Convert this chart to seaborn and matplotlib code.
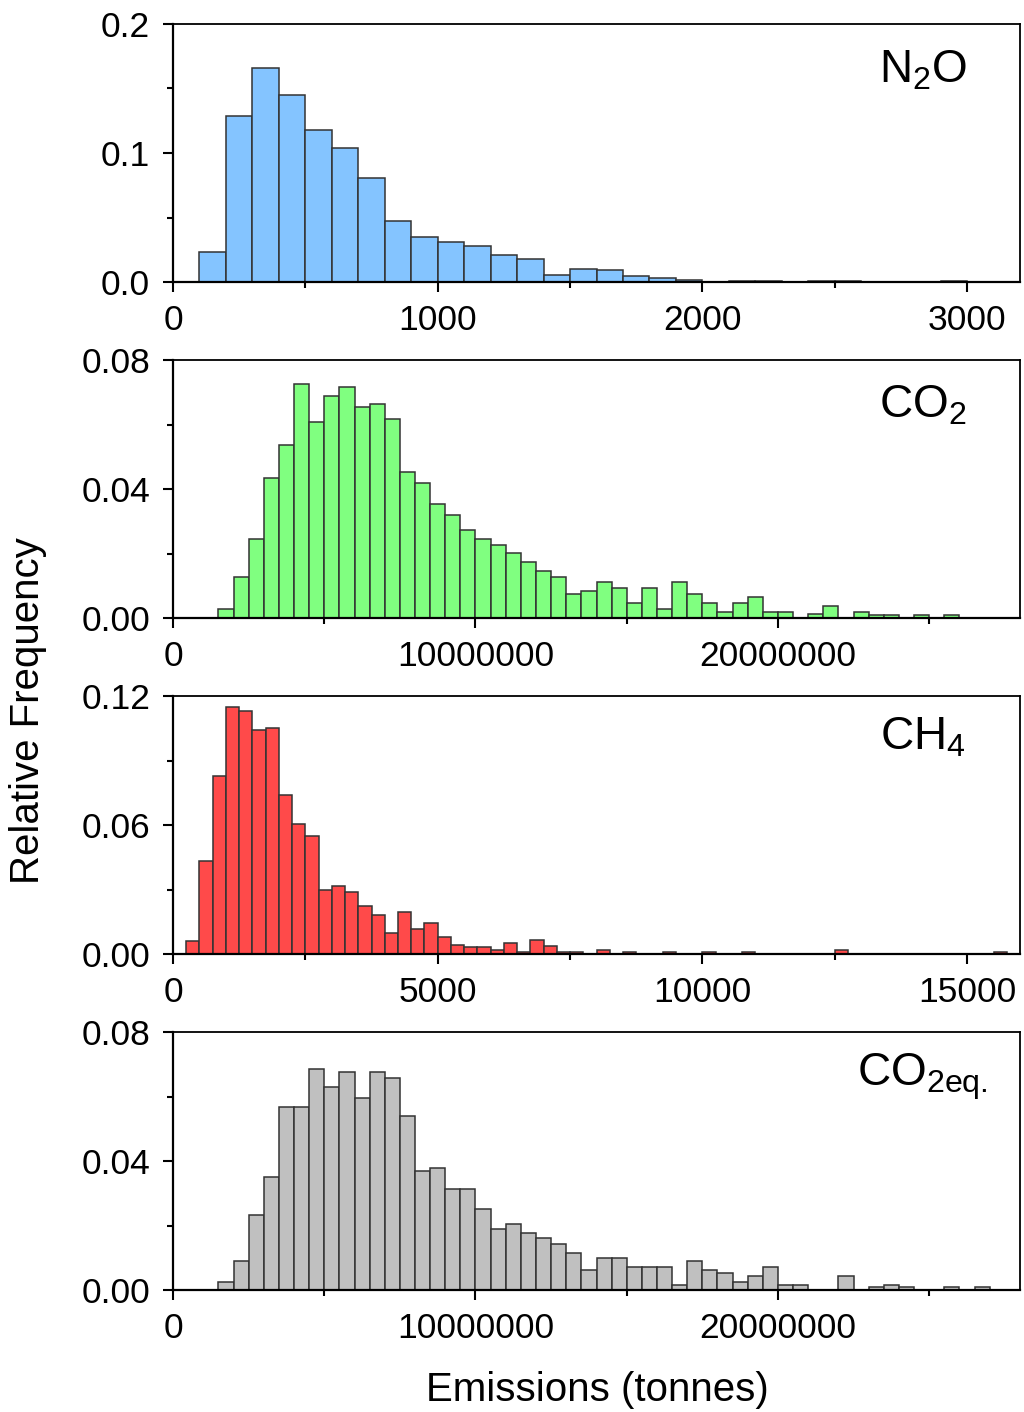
import numpy as np
import pandas as pd
import matplotlib
matplotlib.use("Agg")
import matplotlib.pyplot as plt
import seaborn as sns
from matplotlib.ticker import MultipleLocator, FormatStrFormatter, FuncFormatter

# ---------------- data (relative frequencies per bin) ----------------
n2o_bin_start, n2o_bin_width = 100, 100
n2o_freq = [0.0233, 0.1287, 0.166, 0.145, 0.118, 0.104, 0.081, 0.047, 0.035,
            0.031, 0.028, 0.021, 0.0176, 0.0054, 0.0103, 0.0096, 0.0049,
            0.0028, 0.0015, 0.0, 0.0008, 0.0008, 0.0, 0.0008, 0.0008, 0.0,
            0.0, 0.0, 0.0008]

co2_bin_start, co2_bin_width = 1.5e6, 0.5e6
co2_freq = [0.0027, 0.0128, 0.0246, 0.0435, 0.0535, 0.0725, 0.0609, 0.0689,
            0.0717, 0.0653, 0.0663, 0.0618, 0.0454, 0.0420, 0.0355, 0.0318,
            0.0274, 0.0246, 0.0227, 0.0202, 0.0174, 0.0146, 0.0127, 0.0074,
            0.0084, 0.0111, 0.0092, 0.0047, 0.0092, 0.0028, 0.0111, 0.0074,
            0.0047, 0.0020, 0.0047, 0.0065, 0.0019, 0.0019, 0.0, 0.0011,
            0.0037, 0.0, 0.0019, 0.0010, 0.0010, 0.0, 0.0010, 0.0, 0.0010]

ch4_bin_start, ch4_bin_width = 250, 250
ch4_freq = [0.0062, 0.0433, 0.083, 0.115, 0.113, 0.104, 0.105, 0.0741, 0.0606,
            0.055, 0.0298, 0.0318, 0.0288, 0.0225, 0.0181, 0.0098, 0.0197,
            0.0116, 0.0146, 0.0079, 0.0043, 0.0034, 0.0034, 0.0019, 0.0051,
            0.0008, 0.0064, 0.0036, 0.0010, 0.0010, 0.0, 0.0017, 0.0, 0.0010,
            0.0, 0.0, 0.0010, 0.0, 0.0, 0.0010, 0.0, 0.0, 0.0010,
            0.0, 0.0, 0.0, 0.0, 0.0, 0.0, 0.0017,
            0.0, 0.0, 0.0, 0.0, 0.0, 0.0, 0.0, 0.0, 0.0, 0.0, 0.0, 0.0010]

co2eq_bin_start, co2eq_bin_width = 1.5e6, 0.5e6
co2eq_freq = [0.0025, 0.0089, 0.0232, 0.035, 0.0566, 0.0566, 0.0685, 0.0629,
              0.0675, 0.0595, 0.0675, 0.0657, 0.0539, 0.0368, 0.0377, 0.0314,
              0.0314, 0.025, 0.0189, 0.0206, 0.0178, 0.0161, 0.0142, 0.0115,
              0.0061, 0.0098, 0.0098, 0.007, 0.007, 0.007, 0.0016, 0.0089,
              0.0061, 0.0052, 0.0025, 0.0043, 0.007, 0.0016, 0.0016, 0.0, 0.0,
              0.0043, 0.0, 0.0008, 0.0016, 0.0008, 0.0, 0.0, 0.0008, 0.0, 0.0008]

labels = [r"N$_2$O", r"CO$_2$", r"CH$_4$", r"CO$_{2eq.}$"]
colors = ["#84C4FF", "#80FF80", "#FF4A4A", "#C0C0C0"]

# ---------------- style ----------------
sns.set_style("ticks")
plt.rcParams["font.family"] = ["Liberation Sans", "DejaVu Sans"]
plt.rcParams["text.color"] = "black"
plt.rcParams["mathtext.fontset"] = "custom"
plt.rcParams["mathtext.rm"] = "Liberation Sans"
plt.rcParams["mathtext.it"] = "Liberation Sans"
plt.rcParams["mathtext.default"] = "regular"

fig = plt.figure(figsize=(10.24, 14.12), dpi=100)

panels = [
    dict(start=n2o_bin_start, width=n2o_bin_width, freq=n2o_freq,
         xlim=(0, 3200), xmaj=1000, xmin=500, ylim=(0, 0.2), ymaj=0.1,
         ymin=0.05, yfmt="%.1f", bottom=1 - 282 / 1412, lab_y=0.82),
    dict(start=co2_bin_start, width=co2_bin_width, freq=co2_freq,
         xlim=(0, 2.8e7), xmaj=1e7, xmin=5e6, ylim=(0, 0.08), ymaj=0.04,
         ymin=0.02, yfmt="%.2f", bottom=1 - 618 / 1412, lab_y=0.825),
    dict(start=ch4_bin_start, width=ch4_bin_width, freq=ch4_freq,
         xlim=(0, 16000), xmaj=5000, xmin=2500, ylim=(0, 0.12), ymaj=0.06,
         ymin=0.03, yfmt="%.2f", bottom=1 - 954 / 1412, lab_y=0.84),
    dict(start=co2eq_bin_start, width=co2eq_bin_width, freq=co2eq_freq,
         xlim=(0, 2.8e7), xmaj=1e7, xmin=5e6, ylim=(0, 0.08), ymaj=0.04,
         ymin=0.02, yfmt="%.2f", bottom=1 - 1290 / 1412, lab_y=0.825),
]

left = 173 / 1024
width = 847 / 1024
height = 258 / 1412

for p, lab, col in zip(panels, labels, colors):
    ax = fig.add_axes([left, p["bottom"], width, height])
    n = len(p["freq"])
    edges = [float(p["start"] + p["width"] * i) for i in range(n + 1)]
    centers = [e + p["width"] / 2 for e in edges[:-1]]
    df = pd.DataFrame({"x": centers, "freq": p["freq"]})
    sns.histplot(data=df, x="x", weights="freq", bins=edges, stat="count",
                 color=col, edgecolor="#333333", linewidth=1.1, alpha=1,
                 ax=ax)
    ax.set_xlim(*p["xlim"])
    ax.set_ylim(*p["ylim"])
    ax.set_xlabel("")
    ax.set_ylabel("")
    ax.xaxis.set_major_locator(MultipleLocator(p["xmaj"]))
    ax.xaxis.set_minor_locator(MultipleLocator(p["xmin"]))
    ax.yaxis.set_major_locator(MultipleLocator(p["ymaj"]))
    ax.yaxis.set_minor_locator(MultipleLocator(p["ymin"]))
    ax.xaxis.set_major_formatter(FuncFormatter(lambda v, pos: f"{v:.0f}"))
    ax.yaxis.set_major_formatter(FormatStrFormatter(p["yfmt"]))
    for s in ax.spines.values():
        s.set_visible(True)
        s.set_linewidth(1.3)
        s.set_color("black")
    ax.spines["left"].set_linewidth(1.6)
    ax.spines["bottom"].set_linewidth(1.6)
    ax.tick_params(axis="both", which="major", direction="out", length=7.5,
                   width=1.5, labelsize=25.5, color="black", labelcolor="black")
    ax.tick_params(axis="x", which="major", pad=8)
    ax.tick_params(axis="y", which="major", pad=9)
    ax.tick_params(axis="both", which="minor", direction="out", length=4,
                   width=1.5, color="black")
    ax.text(0.885, p["lab_y"], lab, transform=ax.transAxes, ha="center",
            va="center", fontsize=33, color="black")

fig.text(28 / 1024, 1 - 711 / 1412, "Relative Frequency", rotation=90,
         ha="center", va="center", fontsize=29, color="black")
fig.text(597 / 1024, 1 - 1390 / 1412, "Emissions (tonnes)", ha="center",
         va="center", fontsize=29, color="black")

fig.savefig("out.png", dpi=100)
